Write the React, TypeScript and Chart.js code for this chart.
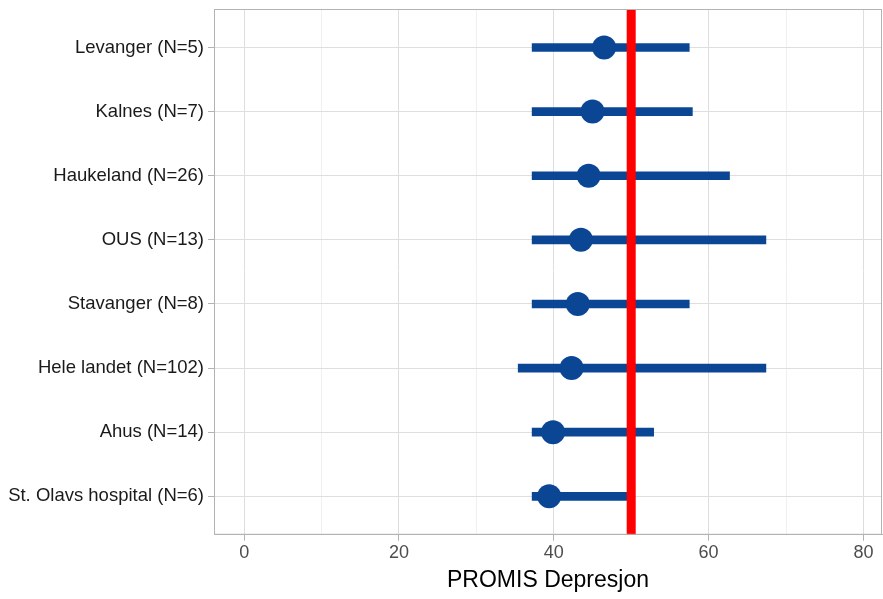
import React, { useEffect, useRef } from "react";
import { Chart, registerables } from "chart.js";

Chart.register(...registerables);

const categories = [
  "Levanger (N=5)",
  "Kalnes (N=7)",
  "Haukeland (N=26)",
  "OUS (N=13)",
  "Stavanger (N=8)",
  "Hele landet (N=102)",
  "Ahus (N=14)",
  "St. Olavs hospital (N=6)",
];
const meanValues = [46.5, 45.0, 44.5, 43.5, 43.1, 42.3, 39.9, 39.4];
const lowValues = [37.2, 37.2, 37.2, 37.2, 37.2, 35.4, 37.2, 37.2];
const highValues = [57.5, 57.9, 62.7, 67.4, 57.5, 67.4, 52.9, 49.8];
const referenceValue = 50;
const xTickValues = [0, 20, 40, 60, 80];

const BLUE = "#0B4695";

export default function App() {
  const ref = useRef<HTMLCanvasElement | null>(null);

  useEffect(() => {
    document.body.style.margin = "0";
    const n = categories.length;
    const yPos = (i: number) => n - i;
    const chart = new Chart(ref.current!, {
      type: "bar",
      data: {
        datasets: [
          {
            type: "bar",
            data: categories.map((c, i) => ({ x: [lowValues[i], highValues[i]], y: yPos(i) })) as any,
            backgroundColor: BLUE,
            borderWidth: 0,
            barThickness: 8,
            order: 3,
          } as any,
          {
            type: "line",
            data: categories.map((c, i) => ({ x: meanValues[i], y: yPos(i) })),
            showLine: false,
            pointRadius: 12,
            pointBackgroundColor: BLUE,
            pointBorderWidth: 0,
            order: 2,
          } as any,
          {
            type: "line",
            data: [
              { x: referenceValue, y: 0.4 },
              { x: referenceValue, y: n + 0.6 },
            ],
            borderColor: "#FF0000",
            borderWidth: 9,
            pointRadius: 0,
            order: 1,
          } as any,
        ],
      },
      options: {
        indexAxis: "y",
        animation: false,
        responsive: false,
        maintainAspectRatio: false,
        layout: { autoPadding: false, padding: { top: 9, right: 1, left: 0, bottom: 0 } },
        plugins: { legend: { display: false }, tooltip: { enabled: false } },
        scales: {
          x: {
            type: "linear",
            min: -3.9,
            max: 82.4,
            offset: false,
            border: { display: true, color: "#b3b3b3", width: 1 },
            afterFit: (s: any) => {
              s.paddingLeft = 0;
              s.paddingRight = 0;
            },
            ticks: {
              stepSize: 10,
              includeBounds: false,
              autoSkip: false,
              maxRotation: 0,
              color: "#4d4d4d",
              font: { family: "Liberation Sans, Arial", size: 18 },
              padding: 1,
              callback: (v: any) => (xTickValues.includes(Number(v)) ? String(v) : ""),
            },
            grid: {
              offset: false,
              color: (ctx: any) => (ctx.tick && Number(ctx.tick.value) % 20 === 0 ? "#dedede" : "#ececec"),
              lineWidth: (ctx: any) => (ctx.tick && Number(ctx.tick.value) % 20 === 0 ? 1 : 0.8),
              tickColor: (ctx: any) => (ctx.tick && Number(ctx.tick.value) % 20 === 0 ? "#b3b3b3" : "rgba(0,0,0,0)"),
              tickLength: 6,
              drawTicks: true,
            },
            title: {
              display: true,
              text: "PROMIS Depresjon",
              color: "#000000",
              font: { family: "Liberation Sans, Arial", size: 23 },
              padding: { top: 2, bottom: 5 },
            },
          },
          y: {
            type: "linear",
            min: 0.4,
            max: n + 0.6,
            offset: false,
            border: { display: true, color: "#b3b3b3", width: 1 },
            afterFit: (s: any) => {
              s.width = 214;
              s.paddingTop = 0;
              s.paddingBottom = 0;
            },
            ticks: {
              stepSize: 1,
              includeBounds: false,
              autoSkip: false,
              color: "#1a1a1a",
              font: { family: "Liberation Sans, Arial", size: 18.5 },
              padding: 4,
              callback: (v: any) => {
                const i = n - Number(v);
                return categories[i] ?? "";
              },
            },
            grid: {
              offset: false,
              color: "#dedede",
              tickColor: "#b3b3b3",
              tickLength: 6,
            },
          },
        },
      },
      plugins: [
        {
          id: "panelBorder",
          afterDraw: (c: any) => {
            const a = c.chartArea;
            const ctx = c.ctx;
            ctx.save();
            ctx.strokeStyle = "#b3b3b3";
            ctx.lineWidth = 1;
            ctx.strokeRect(a.left + 0.5, a.top + 0.5, a.right - a.left - 1, a.bottom - a.top - 1);
            ctx.restore();
          },
        },
      ],
    });
    return () => chart.destroy();
  }, []);

  return (
    <div style={{ width: 883, height: 599 }}>
      <canvas ref={ref} width={883} height={599} style={{ width: 883, height: 599 }} />
    </div>
  );
}
